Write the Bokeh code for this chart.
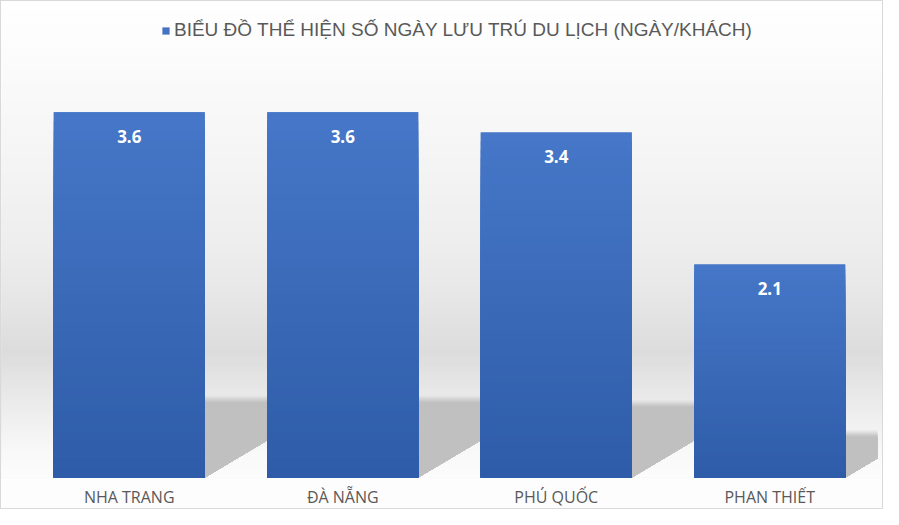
import numpy as np
from bokeh.plotting import figure
from bokeh.models import ColumnDataSource, FixedTicker, Legend, LegendItem, Range1d
from bokeh.core.properties import value
from bokeh.embed import file_html
from bokeh.resources import INLINE

# ---- data ----
categories = ["NHA TRANG", "ĐÀ NẴNG", "PHÚ QUỐC", "PHAN THIẾT"]
values = [3.6, 3.6, 3.4, 2.1]
value_labels = ["3.6", "3.6", "3.4", "2.1"]
series_name = "BIỂU ĐỒ THỂ HIỆN SỐ NGÀY LƯU TRÚ DU LỊCH (NGÀY/KHÁCH)"

# ---- style ----
BAR_W = 0.707
TOP_C = np.array([0x46, 0x77, 0xC8])
BOT_C = np.array([0x2E, 0x5C, 0xA8])
MID_C = "#4472C4"
PX_PER_CAT = 213.5
PX_PER_UNIT = 101.7
FRAME_H = 477
N = len(categories)


def hexc(c):
    c = np.clip(np.round(c), 0, 255).astype(int)
    return "#%02x%02x%02x" % tuple(c)


def shade(g):
    return hexc(np.array([g, g, g], dtype=float))


W, H = 883, 509
x_lo = -21 / PX_PER_CAT
x_hi = x_lo + W / PX_PER_CAT
y_hi = FRAME_H / PX_PER_UNIT
clip_x = N + 1 / PX_PER_CAT
p = figure(width=W, height=H, output_backend="svg", toolbar_location=None,
           x_range=Range1d(x_lo, x_hi), y_range=Range1d(0, y_hi),
           min_border_left=0, min_border_right=0, min_border_top=0,
           min_border_bottom=32)
p.background_fill_color = "white"
p.border_fill_color = "#FDFDFD"
p.outline_line_color = None
p.grid.visible = False
p.yaxis.visible = False

centers = [i + 0.5 for i in range(N)]

# ---- soft background gradient (screen px from top -> grey level) ----
bg_px = [0, 60, 150, 250, 300, 350, 385, 420, 450, 477]
bg_grey = [0xFF, 0xFB, 0xF5, 0xED, 0xE6, 0xDC, 0xE6, 0xF0, 0xF8, 0xFC]
bg_y = [(FRAME_H - s) / PX_PER_UNIT for s in bg_px]


def bg_at(y):
    return np.interp(y, bg_y[::-1], bg_grey[::-1])


tops = np.linspace(y_hi, 0, 160, endpoint=False)
p.quad(left=[x_lo] * len(tops), right=[x_hi] * len(tops), bottom=[0] * len(tops),
       top=list(tops), fill_color=[shade(bg_at(t - y_hi / 320)) for t in tops],
       line_color=None)

# ---- shadows (derived from bar geometry), layered top-down to avoid seams ----
NS = 50
K_SKEW = 0.8  # horizontal shift per unit of height
for xc, v in zip(centers, values):
    x0, x1 = xc - BAR_W / 2, xc + BAR_W / 2
    hs = 0.225 * v
    levels = np.linspace(hs, 0, NS, endpoint=False)
    for t in levels:
        h = t - hs / NS / 2
        if h < hs - 0.07:
            g = 0xC0
        else:
            f = (h - (hs - 0.07)) / 0.07
            g = 0xC0 * (1 - f) + bg_at(hs) * f
        o = K_SKEW * t
        if x1 + o <= clip_x:
            xs = [x0, x1, x1 + o, x0 + o]
            ys = [0, 0, t, t]
        else:
            yc = t * (clip_x - x1) / o
            xs = [x0, x1, clip_x, clip_x, x0 + o]
            ys = [0, 0, yc, t, t]
        p.patch(xs, ys, fill_color=shade(g), line_color=None)

# ---- bars ----
src = ColumnDataSource(dict(x=centers, top=values, cat=categories, lab=value_labels))
bars = p.vbar(x="x", top="top", width=BAR_W, source=src, fill_color=MID_C, line_color=None)

NB = 40
L, R, B, T, C = [], [], [], [], []
for xc, v in zip(centers, values):
    for k in range(NB, 0, -1):
        L.append(xc - BAR_W / 2)
        R.append(xc + BAR_W / 2)
        B.append(0)
        T.append(v * k / NB)
        f = (k - 0.5) / NB
        C.append(hexc(BOT_C * (1 - f) + TOP_C * f))
p.quad(left=L, right=R, bottom=B, top=T, fill_color=C, line_color=None)

# ---- value labels ----
p.text(x="x", y="top", text="lab", source=src, text_align="center",
       text_baseline="middle", y_offset=24, text_color="white",
       text_font=value("Noto Sans"), text_font_style="bold", text_font_size="17px")

# ---- axis ----
p.xaxis.ticker = FixedTicker(ticks=centers)
p.xaxis.major_label_overrides = {c: n for c, n in zip(centers, categories)}
p.xaxis.axis_line_color = None
p.xaxis.major_tick_line_color = None
p.xaxis.minor_tick_line_color = None
p.xaxis.major_tick_out = 0
p.xaxis.major_tick_in = 0
p.xaxis.minor_tick_out = 0
p.xaxis.major_label_standoff = 8
p.xaxis.major_label_text_font = "Open Sans"
p.xaxis.major_label_text_font_size = "16px"
p.xaxis.major_label_text_color = "#595959"

# ---- legend ----
legend = Legend(items=[LegendItem(label=series_name, renderers=[bars])],
                location=(160, 436), orientation="horizontal",
                label_text_font="Liberation Sans", label_text_font_size="19px",
                label_text_color="#595959", glyph_width=9, glyph_height=9,
                label_standoff=4, border_line_color=None, background_fill_alpha=0,
                padding=0, margin=0)
p.add_layout(legend)

p.styles = {"border": "1px solid #D9D9D9"}

open("out.html", "w").write(file_html(p, INLINE))
